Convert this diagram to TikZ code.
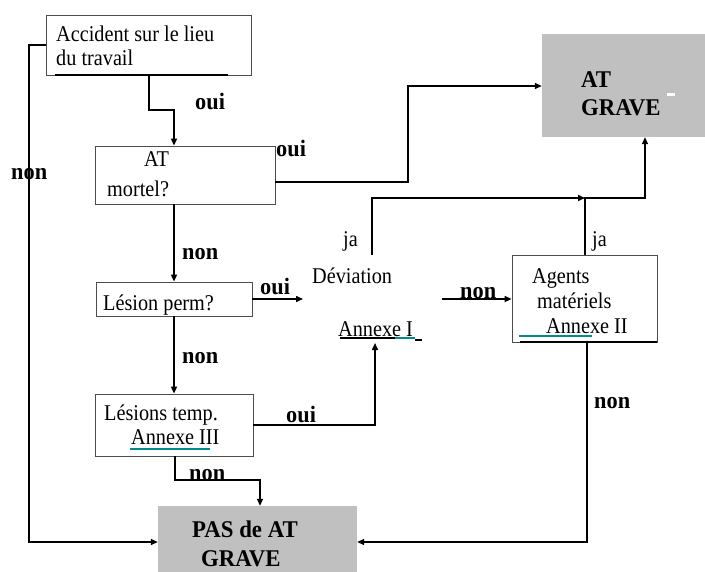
\documentclass[tikz,border=0pt]{standalone}
\usepackage{fontspec}
\setmainfont{Liberation Serif}[FakeStretch=0.9]
\newfontfamily\boldfam{Liberation Serif}[FakeStretch=0.95]
\usetikzlibrary{arrows.meta}
\definecolor{boxgray}{RGB}{192,192,192}
\definecolor{teal2}{RGB}{0,140,140}
\begin{document}
\begin{tikzpicture}[x=1bp,y=-1bp,
  box/.style={draw=black!70,line width=0.8bp,inner sep=0pt,fill=white},
  greybox/.style={fill=boxgray,draw=none,inner sep=0pt},
  txt/.style={anchor=base west,inner sep=0pt,font=\fontsize{22.5bp}{26bp}\selectfont},
  lbl/.style={anchor=base west,inner sep=0pt,font=\boldfam\fontsize{23.5bp}{26bp}\selectfont\bfseries},
  btxt/.style={anchor=base west,inner sep=0pt,font=\boldfam\fontsize{24bp}{28bp}\selectfont\bfseries},
  conn/.style={line width=1.5bp,-{Triangle[length=7bp,width=6bp]}},
  tealline/.style={draw=teal2,line width=2.5bp}
]
\useasboundingbox (0,0) rectangle (705,572);
% boxes
\node[box,minimum width=205bp,minimum height=60bp] (acc) at (148.5,45) {};
\node[box,minimum width=180bp,minimum height=58bp] (mort) at (185,175) {};
\node[box,minimum width=156bp,minimum height=34bp] (perm) at (174,299) {};
\node[box,minimum width=158bp,minimum height=62bp] (temp) at (174,425) {};
\node[box,minimum width=145bp,minimum height=87bp] (agents) at (584.5,298.5) {};
\node[greybox,minimum width=163bp,minimum height=103bp] (grave) at (623.5,85.5) {};
\node[greybox,minimum width=199bp,minimum height=66bp] (pas) at (257.5,539) {};
\draw[line width=1.5bp] (55,75) -- (228,75);
\draw[line width=1.2bp] (520,342) -- (657,342);
% texts in boxes
\node[txt] (t1) at (56,42) {Accident sur le lieu};
\node[txt] (t2) at (56,66) {du travail};
\node[txt] (t3) at (144,167) {AT};
\node[txt] (t4) at (107,197) {mortel?};
\node[txt] (t5) at (103,310) {Lésion perm?};
\node[txt] (t6) at (104,420) {Lésions temp.};
\node[txt] (t7) at (131,444) {Annexe III};
\node[txt] (t8) at (532,283) {Agents};
\node[txt] (t9) at (537,308) {matériels};
\node[txt] (t10) at (546,333) {Annexe II};
\node[txt] (t11) at (312,283) {Déviation};
\node[txt] (t12) at (338,336) {Annexe I};
\node[txt] (t13) at (343,246) {ja};
\node[txt] (t14) at (592,246) {ja};
\node[btxt] (g1) at (581,88) {AT};
\node[btxt] (g2) at (581,116) {GRAVE};
\node[btxt] (p1) at (192,537) {PAS de AT};
\node[btxt] (p2) at (201,566) {GRAVE};
\fill[white] (667,93) rectangle (675,96);
% underlines
\draw[black,line width=1.2bp] (340,338) -- (405,338);
\draw[tealline] (395,338) -- (415,338);
\draw[black,line width=1.2bp] (415,340) -- (422,340);
\draw[tealline] (130,449) -- (210,449);
\draw[tealline] (519,336) -- (592,336);
% labels
\node[lbl] (l1) at (195,110) {oui};
\node[lbl] (l2) at (276,157) {oui};
\node[lbl] (l3) at (11,180) {non};
\node[lbl] (l4) at (182,259) {non};
\node[lbl] (l5) at (260,294) {oui};
\node[lbl] (l6) at (182,363) {non};
\node[lbl] (l7) at (286,422) {oui};
\node[lbl] (l8) at (460,298) {non};
\node[lbl] (l9) at (189,480) {non};
\node[lbl] (l10) at (594,408) {non};
% coordinates
\coordinate (devtop) at (372,255);
\coordinate (devright) at (442,299);
\coordinate (devleft) at (303,299);
\coordinate (devbot) at (375,343);
\coordinate (jaend) at (585,198);
% connectors
\draw[conn] (149,75) -- (149,110) -- (174,110) -- (mort.north -| 174,0);
\draw[line width=2.5bp,-{Triangle[length=7bp,width=6bp]}] (mort.east |- 0,182) -- (408,182) -- (408,86) -- (grave.west |- 0,86);
\draw[conn] (mort.south -| 174,0) -- (perm.north);
\draw[conn] (perm.east) -- (devleft);
\draw[conn] (perm.south) -- (temp.north);
\draw[conn] (temp.east |- 0,425) -- (375,425) -- (devbot);
\draw[conn] (175,456) -- (175,480) -- (260,480) -- (pas.north -| 260,0);
\draw[conn] (acc.west) -- (29,45) -- (29,542) -- (pas.west |- 0,542);
\draw[conn] (devtop) -- (372,198) -- (jaend);
\draw[conn] (agents.north -| 585,0) -- (jaend) -- (645,198) -- (grave.south -| 645,0);
\draw[conn] (devright) -- (agents.west |- devright);
\draw[conn] (agents.south -| 587,0) -- (587,542) -- (pas.east |- 0,542);
\end{tikzpicture}
\end{document}
